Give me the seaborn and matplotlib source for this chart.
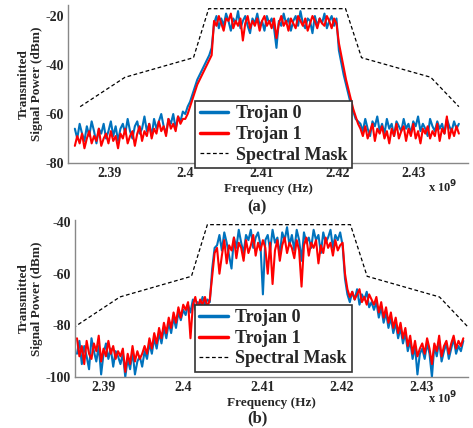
import numpy as np
import pandas as pd
import matplotlib
matplotlib.use('Agg')
import matplotlib.pyplot as plt
import seaborn as sns
from matplotlib.ticker import FuncFormatter

# ---- data, frequency in GHz, power in dBm ----
# (a)
f_start_a, f_stop_a = 2.3855, 2.4360
trojan0_a = [
    -66, -70, -64, -68, -71, -65, -69, -63, -67, -72, -66, -68, -64, -70, -67, -63, -69, -65, -71, -66,
    -64, -68, -62, -67, -70, -65, -63, -68, -66, -61, -67, -64, -69, -62, -66, -63, -60, -65, -68, -62,
    -64, -60, -66, -61, -63, -59,
    -60, -57, -55, -52, -49, -46, -44, -42, -40, -38, -36, -33,
    -23, -20, -25, -21, -24, -19, -22, -26, -21, -23, -18, -25, -22, -20, -24, -27, -21, -23, -19, -24,
    -22, -26, -20, -23, -21, -25, -33, -22, -24, -19, -23, -21, -26, -22, -20, -24, -18, -23, -25, -21,
    -22, -27, -20, -24, -21, -23, -19, -25, -22, -20, -24, -21,
    -34, -39, -44, -48, -52, -56, -59, -62, -63,
    -64, -67, -62, -66, -69, -63, -65, -61, -67, -64, -68, -62, -66, -64, -69, -63, -65, -67, -62, -66,
    -64, -68, -63, -65, -61, -67, -64, -66, -69, -62, -65, -67, -63, -66, -64, -68, -62, -65, -67, -63,
    -66, -64,
]
trojan1_a = [
    -73, -69, -72, -68, -74, -70, -67, -72, -69, -71, -66, -73, -70, -68, -72, -67, -71, -69, -74, -68,
    -70, -66, -72, -69, -67, -73, -68, -65, -71, -67, -69, -64, -70, -66, -68, -63, -67, -65, -69, -62,
    -66, -64, -67, -61, -64, -62,
    -62, -60, -57, -54, -51, -48, -46, -44, -42, -40, -38, -36,
    -22, -24, -20, -23, -26, -21, -22, -19, -25, -22, -24, -21, -30, -23, -20, -25, -22, -24, -21, -26,
    -22, -20, -24, -22, -25, -21, -29, -23, -20, -24, -22, -26, -21, -23, -25, -20, -22, -24, -21, -26,
    -23, -20, -22, -25, -21, -23, -24, -20, -22, -25, -21, -23,
    -31, -36, -41, -46, -50, -54, -58, -61, -64,
    -66, -69, -65, -70, -67, -64, -71, -66, -68, -65, -70, -67, -72, -66, -69, -64, -70, -67, -65, -71,
    -66, -69, -64, -70, -67, -72, -66, -68, -65, -70, -67, -69, -64, -71, -66, -68, -61, -70, -66, -69,
    -65, -68,
]
mask_freq = [2.3862, 2.3921, 2.4011, 2.4031, 2.4211, 2.4232, 2.4323, 2.4360]
mask_a = [-57, -45, -37, -17, -17, -37, -45, -57]

# (b)
f_start_b, f_stop_b = 2.3867, 2.4353
trojan0_b = [
    -91, -86, -95, -88, -92, -97, -85, -90, -94, -88, -99, -91, -87, -93, -89, -96, -90, -92,
    -95, -91, -100, -93, -97, -90, -99, -94, -92, -96,
    -90, -93, -87, -91, -85, -89, -83, -87, -81, -85, -79, -83, -77, -81, -75, -78, -74, -76,
    -72, -75, -70, -74, -71, -73, -69, -72, -70, -71,
    -58, -50,
    -49, -45, -51, -44, -48, -53, -58, -46, -50, -43, -48, -52, -45, -47, -43, -50, -46, -44, -49, -68,
    -47, -45, -51, -43, -48, -46, -53, -44, -47, -42, -49, -45, -51, -43, -47, -55, -44, -48, -46, -50,
    -43, -47, -45, -52, -44, -48, -46, -43, -50, -45, -47, -44, -49,
    -62, -68, -71, -67, -70, -66, -72, -68, -70, -67, -73, -71,
    -74, -71, -77, -73, -79, -75, -81, -77, -83, -79, -85, -81, -87, -83, -90, -86, -93, -88, -99, -91,
    -89, -93, -87, -91, -100, -88, -92, -86, -94, -90, -87, -93, -89, -85, -91, -88, -90, -86,
]
trojan1_b = [
    -85, -92, -88, -95, -86, -91, -93, -87, -90, -84, -94, -89, -92, -86, -91, -88, -93, -90,
    -92, -89, -98, -91, -95, -88, -94, -90, -93, -91,
    -88, -91, -85, -89, -83, -87, -81, -85, -79, -83, -77, -81, -75, -79, -73, -77, -72, -74,
    -71, -85, -72, -69, -74, -70, -72, -69, -73, -70,
    -61, -52,
    -50, -60, -53, -47, -56, -49, -51, -46, -54, -48, -50, -55, -47, -52, -49, -45, -53, -48, -51, -47,
    -50, -60, -48, -64, -51, -47, -55, -49, -46, -52, -48, -50, -54, -47, -51, -65, -49, -46, -53, -48,
    -50, -47, -56, -49, -52, -46, -50, -48, -53, -47, -51, -49, -48,
    -60, -66, -69, -67, -70, -68, -66, -71, -69, -72, -68, -70,
    -72, -69, -75, -71, -77, -73, -79, -75, -81, -77, -83, -79, -85, -81, -88, -84, -91, -86, -92, -89,
    -87, -91, -85, -89, -95, -87, -90, -84, -92, -88, -86, -91, -87, -84, -89, -86, -88, -85,
]
mask_b = [-81, -69, -61, -41, -41, -61, -69, -81]

# ---- style ----
sns.set_style('white')
plt.rcParams['font.family'] = ['Liberation Serif', 'DejaVu Serif']
plt.rcParams['font.weight'] = 'bold'
plt.rcParams['axes.labelweight'] = 'bold'
plt.rcParams['axes.unicode_minus'] = False

blue = '#0072BD'
red = '#FF0000'

fig = plt.figure(figsize=(4.73, 4.28), dpi=100)
ax_a = fig.add_axes([68 / 473, 1 - 163 / 428, 400 / 473, 158 / 428])
ax_b = fig.add_axes([75 / 473, 1 - 377 / 428, 393 / 473, 157 / 428])

panels = [
    (ax_a, f_start_a, f_stop_a, trojan0_a, trojan1_a, mask_a, (2.3846, 2.4372), (-80, -15.5),
     [-80, -60, -40, -20], (0.3175, -0.032), '(a)', 207),
    (ax_b, f_start_b, f_stop_b, trojan0_b, trojan1_b, mask_b, (2.38645, 2.43589), (-100, -39.2),
     [-100, -80, -60, -40], (0.305, 0.032), '(b)', 418),
]

for ax, f0, f1, t0, t1, mask, xlim, ylim, yticks, leg_anchor, tag, tag_y in panels:
    freq = np.linspace(f0, f1, len(t0))
    df = pd.DataFrame({'freq': freq, 'Trojan 0': t0, 'Trojan 1': t1})
    sns.lineplot(data=df, x='freq', y='Trojan 0', color=blue, lw=1.5, label='Trojan 0', ax=ax)
    sns.lineplot(data=df, x='freq', y='Trojan 1', color=red, lw=1.5, label='Trojan 1', ax=ax)
    sns.lineplot(x=mask_freq, y=mask, color='black', lw=0.9, linestyle=(0, (3, 2)),
                 label='Spectral Mask', ax=ax)

    ax.set_xlim(*xlim)
    ax.set_ylim(*ylim)
    ax.set_xticks([2.39, 2.40, 2.41, 2.42, 2.43])
    ax.set_yticks(yticks)
    ax.xaxis.set_major_formatter(FuncFormatter(lambda v, p: '%g' % round(v, 3)))
    ax.tick_params(direction='in', length=3, labelsize=10, color='#666666', pad=3)
    for lbl in ax.get_xticklabels() + ax.get_yticklabels():
        lbl.set_fontweight('bold')
    for s in ['top', 'right']:
        ax.spines[s].set_visible(False)
    for s in ['left', 'bottom']:
        ax.spines[s].set_color('#888888')
        ax.spines[s].set_linewidth(1.0)

    ax.set_xlabel('Frequency (Hz)', fontsize=9.5, fontweight='bold', labelpad=2)
    ax.set_ylabel('Transmitted\nSignal Power (dBm)', fontsize=9.5, fontweight='bold',
                  labelpad=2, linespacing=1.1)

    leg = ax.legend(loc='lower left', bbox_to_anchor=leg_anchor, borderaxespad=0,
                    prop={'family': 'Liberation Serif', 'weight': 'bold', 'size': 13},
                    frameon=True, fancybox=False, edgecolor='#333333', framealpha=1,
                    borderpad=0.25, labelspacing=0.2, handlelength=1.6, handletextpad=0.4)
    leg.get_frame().set_linewidth(1.2)
    for h in leg.get_lines()[:2]:
        h.set_linewidth(2.5)

    fig.text(0.905, 1 - (tag_y - 20) / 428, r'x 10$^{9}$', fontsize=9, fontweight='bold',
             ha='left', va='center')
    fig.text(257 / 473, 1 - tag_y / 428, tag, fontsize=12, fontweight='bold',
             ha='center', va='center')

fig.savefig('out.png', dpi=100)
